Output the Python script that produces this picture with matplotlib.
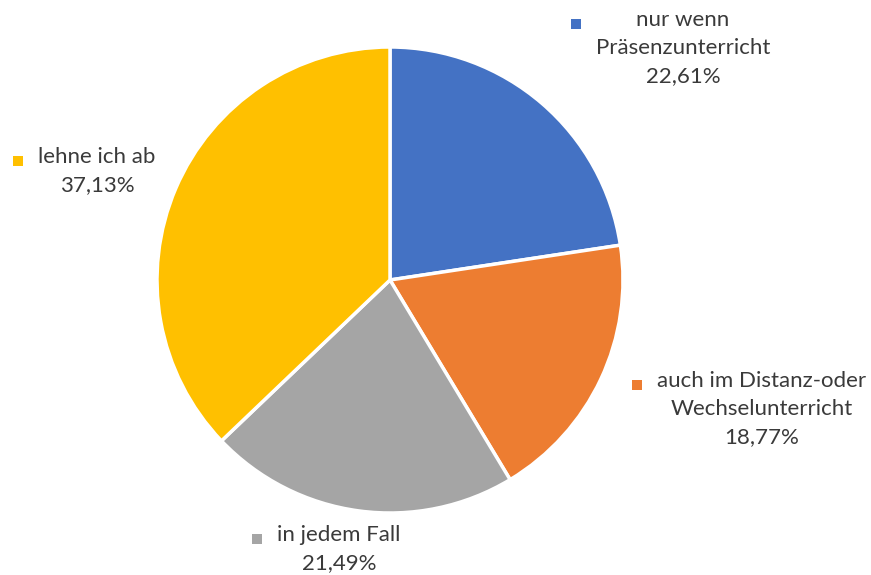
import matplotlib.pyplot as plt
from matplotlib.lines import Line2D

labels = ["nur wenn\nPräsenzunterricht",
          "auch im Distanz-oder\nWechselunterricht",
          "in jedem Fall",
          "lehne ich ab"]
shares = [22.61, 18.77, 21.49, 37.13]
colors = ["#4472C4", "#ED7D31", "#A5A5A5", "#FFC000"]

# centre of each label block in pixels (x from left, y from top)
label_pos = [(683, 48), (762, 409), (339, 549), (97, 171)]

W, H = 871, 575
fig = plt.figure(figsize=(W / 100, H / 100), dpi=100)
plt.rcParams['font.family'] = ['Lato', 'DejaVu Sans']

cx, cy, r = 390, 280, 233
ax = fig.add_axes([(cx - r) / W, (H - cy - r) / H, 2 * r / W, 2 * r / H])
ax.pie(shares, colors=colors, startangle=90, counterclock=False,
       wedgeprops=dict(edgecolor="white", linewidth=2.5))
ax.set_xlim(-1, 1)
ax.set_ylim(-1, 1)
ax.set_aspect("equal")
ax.axis("off")

texts = []
for lab, val, (px, py) in zip(labels, shares, label_pos):
    s = lab + "\n" + f"{val:.2f}".replace(".", ",") + "%"
    t = fig.text(px / W, 1 - py / H, s, ha="center", va="center",
                 multialignment="center", fontsize=16, color="#3a3a3a",
                 linespacing=1.52)
    texts.append(t)

fig.canvas.draw()
rend = fig.canvas.get_renderer()
for t, c in zip(texts, colors):
    bb = t.get_window_extent(rend)
    first_line_y = bb.y1 - 14
    mx = bb.x0 - 20
    fig.add_artist(Line2D([mx / W], [first_line_y / H], marker="s",
                          markersize=6.8, color=c, markeredgewidth=0,
                          transform=fig.transFigure))

fig.savefig("out.png", dpi=100)
